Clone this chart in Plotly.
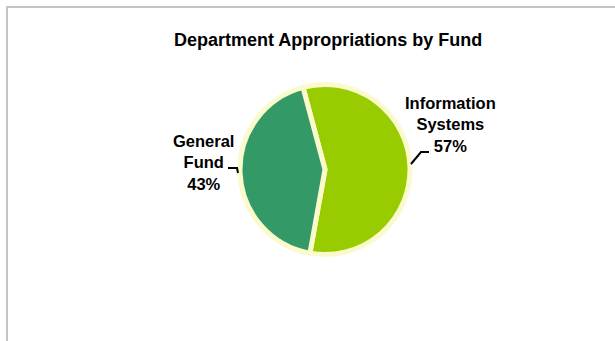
import plotly.graph_objects as go

# ---- data ----
labels = ["Information Systems", "General Fund"]
values = [57, 43]
label_text = ["Information<br>Systems<br>57%", "General<br>Fund<br>43%"]
colors = ["#99CC00", "#339966"]
title_text = "Department Appropriations by Fund"

W, H = 615, 341

def px(x):
    return x / W

def py(y):
    return 1 - y / H

# pie geometry (pixels)
cx, cy, r = 325, 169.5, 85

fig = go.Figure()
fig.add_trace(go.Pie(
    labels=labels,
    values=values,
    sort=False,
    direction="clockwise",
    rotation=-15,
    marker=dict(colors=colors, line=dict(color="#FAFACC", width=5)),
    textinfo="none",
    hoverinfo="label+percent",
    showlegend=False,
    domain=dict(x=[px(cx - r), px(cx + r)], y=[py(cy + r), py(cy - r)]),
))

font = dict(family="Liberation Sans, Arial, sans-serif", size=16.5, color="#000000")

annotations = [
    dict(text="<b>" + label_text[0] + "</b>", x=px(450), y=py(124.5), xref="paper", yref="paper",
         showarrow=False, xanchor="center", yanchor="middle", align="center", font=font),
    dict(text="<b>" + label_text[1] + "</b>", x=px(203), y=py(162.5), xref="paper", yref="paper",
         showarrow=False, xanchor="center", yanchor="middle", align="center", font=font),
    dict(text="<b>" + title_text + "</b>", x=px(328), y=py(40), xref="paper", yref="paper",
         showarrow=False, xanchor="center", yanchor="middle",
         font=dict(family="Liberation Sans, Arial, sans-serif", size=18, color="#000000")),
]

def path(points):
    return "M " + " L ".join(f"{px(x)},{py(y)}" for x, y in points)

shapes = [
    # leader lines
    dict(type="path", xref="paper", yref="paper", path=path([(228, 168), (237, 168), (238, 173)]),
         line=dict(color="#000000", width=2)),
    dict(type="path", xref="paper", yref="paper", path=path([(411, 164), (421, 152), (429, 152)]),
         line=dict(color="#000000", width=2)),
    # chart border
    dict(type="line", xref="paper", yref="paper", x0=px(6), x1=px(620), y0=py(7), y1=py(7),
         line=dict(color="#C4C4C4", width=2)),
    dict(type="line", xref="paper", yref="paper", x0=px(7), x1=px(7), y0=py(6), y1=py(345),
         line=dict(color="#C4C4C4", width=2)),
]

fig.update_layout(
    width=W, height=H,
    margin=dict(l=0, r=0, t=0, b=0),
    paper_bgcolor="#FFFFFF",
    plot_bgcolor="#FFFFFF",
    annotations=annotations,
    shapes=shapes,
)

fig.write_html("out.html")
